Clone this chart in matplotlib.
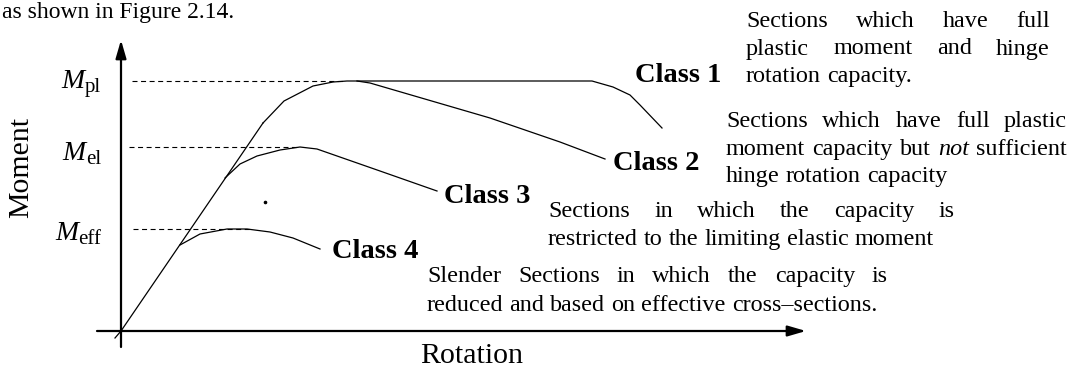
import matplotlib
matplotlib.use("Agg")
import matplotlib.pyplot as plt

plt.rcParams['font.family'] = ['Liberation Serif', 'DejaVu Serif']

W, H = 1077, 368
OX, OY = 121, 331   # image pixel where the two axes cross

# moment-rotation curves (rotation, moment), origin at the axes crossing
elastic_rot = [-6, 0, 142]
elastic_mom = [-7, 0, 208]
class1_rot = [142, 163, 192, 212, 226, 236, 471, 492, 509, 519, 541]
class1_mom = [208, 230, 245, 249, 250, 250, 250, 244, 236, 226, 203]
class2_rot = [236, 249, 369, 439, 484]
class2_mom = [250, 248, 213, 189, 172]
class3_rot = [104, 119, 136, 159, 179, 196, 259, 316]
class3_mom = [153, 167, 175, 181, 184, 182, 160, 140]
class4_rot = [59, 79, 106, 126, 149, 172, 199]
class4_mom = [86, 97, 102, 102, 99, 93, 82]

# reference moment levels and the dashed guide lines
levels = [250, 184, 102]
level_subs = ['pl', 'el', 'eff']
dash_from = [11, 8, 12]
dash_to = [224, 179, 129]

class_names = ['Class 1', 'Class 2', 'Class 3', 'Class 4']

desc1 = ['Sections which have full', 'plastic moment and hinge', 'rotation capacity.']
desc2 = ['Sections which have full plastic', 'moment capacity but not sufficient',
         'hinge rotation capacity']
desc3 = ['Sections in which the capacity is', 'restricted to the limiting elastic moment']
desc4 = ['Slender Sections in which the capacity is',
         'reduced and based on effective cross\u2013sections.']
ITALIC = {'not'}

fig = plt.figure(figsize=(W / 100, H / 100), dpi=100)
ax = fig.add_axes([0, 0, 1, 1])
ax.set_xlim(-OX, W - OX)
ax.set_ylim(OY - H, OY)
ax.axis('off')
r = fig.canvas.get_renderer()


def px(x, y):
    # image pixel -> diagram coords (only used for placing the labels)
    return x - OX, OY - y


def width(s, **kw):
    t = ax.text(0, 0, s, **kw)
    w = t.get_window_extent(r).width
    t.remove()
    return w


def block(lines, left, right, bases, size=17.4):
    space = width('a a', fontsize=size) - width('aa', fontsize=size)
    for i, line in enumerate(lines):
        words = line.split()
        styles = ['italic' if w in ITALIC else 'normal' for w in words]
        ws = [width(w, fontsize=size, style=s) for w, s in zip(words, styles)]
        if i < len(lines) - 1:
            gap = (right - left - sum(ws)) / (len(words) - 1)
        else:
            gap = space
        x = left
        for w, s, wd in zip(words, styles, ws):
            ax.text(*px(x, bases[i]), w, fontsize=size, style=s,
                    ha='left', va='baseline')
            x += wd + gap


# axes with arrow heads
arrow = dict(arrowstyle='-|>,head_length=1.1,head_width=0.32', lw=1.6,
             color='black', shrinkA=0, shrinkB=0, mutation_scale=10)
ax.annotate('', xy=(0, 291), xytext=(0, -16), arrowprops=arrow)
ax.annotate('', xy=(685, 0), xytext=(-24, 0), arrowprops=arrow)

# curves
lw = 0.9
ax.plot(elastic_rot, elastic_mom, color='black', lw=lw)
ax.plot(class1_rot, class1_mom, color='black', lw=lw)
ax.plot(class2_rot, class2_mom, color='black', lw=lw)
ax.plot(class3_rot, class3_mom, color='black', lw=lw)
ax.plot(class4_rot, class4_mom, color='black', lw=lw)
for m, a, b in zip(levels, dash_from, dash_to):
    ax.plot([a, b], [m, m], color='black', lw=0.8, linestyle=(0, (4.5, 3.2)))
ax.plot([144], [129], marker='o', ms=1.6, color='black')

# moment level labels
label_base = [88.5, 160, 240]
for sub, yb in zip(level_subs, label_base):
    sw = width(sub, fontsize=15)
    ax.text(*px(101 - sw, yb + 3.5), sub, fontsize=15, ha='left', va='baseline')
    ax.text(*px(101 - sw, yb), 'M', fontsize=20, style='italic',
            ha='right', va='baseline')

# class labels
class_pos = [(635, 81.5), (613, 170), (444, 203), (332, 258)]
for name, (x, y) in zip(class_names, class_pos):
    ax.text(*px(x, y), name, fontsize=20.5, fontweight='bold',
            ha='left', va='baseline')

# descriptions, justified like the original
block(desc1, 746, 1050, [27.3, 54.5, 82])
block(desc2, 726, 1067, [127.3, 155, 181.7])
block(desc3, 548, 955, [217.3, 245])
block(desc4, 427, 888, [281.7, 311])

# axis titles
ax.text(*px(28.5, 167.5), 'Moment', fontsize=21.5, rotation=90,
        rotation_mode='anchor', ha='center', va='baseline')
ax.text(*px(472, 363), 'Rotation', fontsize=21.5, ha='center', va='baseline')

# line of the surrounding page text (cut off at the top in the original)
ax.text(*px(2, 18), 'as shown in Figure 2.14.', fontsize=17, ha='left',
        va='baseline')

fig.savefig('out.png', dpi=100)
